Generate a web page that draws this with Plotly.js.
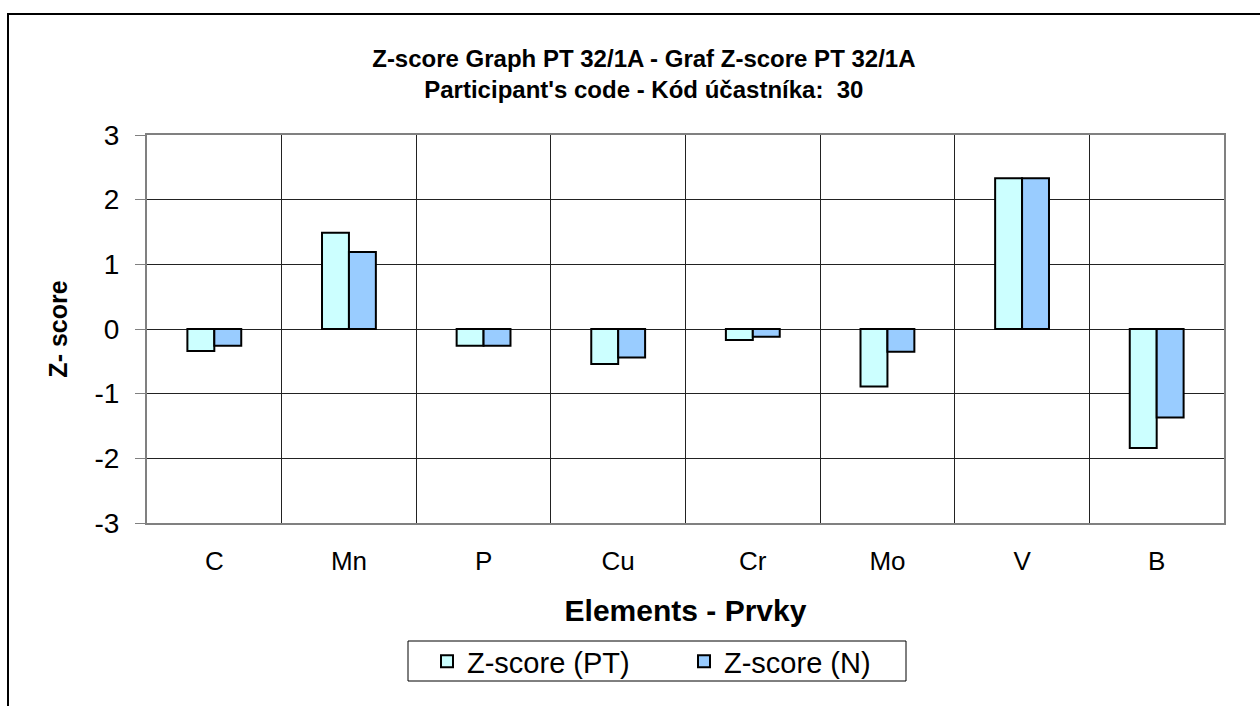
<!DOCTYPE html>
<html>
<head>
<meta charset="utf-8">
<script src="https://cdn.plot.ly/plotly-3.0.1.min.js"></script>
<style>
  html, body { margin: 0; padding: 0; background: #fff; }
  #chart { width: 1260px; height: 706px; }
</style>
</head>
<body>
<div id="chart"></div>
<script>
const categories = ['C', 'Mn', 'P', 'Cu', 'Cr', 'Mo', 'V', 'B'];
const zScorePT = [-0.34, 1.49, -0.26, -0.54, -0.17, -0.89, 2.33, -1.84];
const zScoreN  = [-0.26, 1.19, -0.26, -0.44, -0.12, -0.35, 2.33, -1.37];
const seriesNames = ['Z-score (PT)', 'Z-score (N)'];
const yTicks = [-3, -2, -1, 0, 1, 2, 3];

const FONT = '"Liberation Sans", Arial, sans-serif';

const traces = [
  {
    type: 'bar', name: seriesNames[0], x: categories, y: zScorePT,
    marker: { color: '#CCFFFF', line: { color: '#000000', width: 2 } },
    hoverinfo: 'x+y+name'
  },
  {
    type: 'bar', name: seriesNames[1], x: categories, y: zScoreN,
    marker: { color: '#99CCFF', line: { color: '#000000', width: 2 } },
    hoverinfo: 'x+y+name'
  }
];

// pixel -> paper helpers (plot area: x 147..1224, y 135..523)
const PX0 = 147, PX1 = 1224, PY0 = 135, PY1 = 523;
const px = v => (v - PX0) / (PX1 - PX0);
const py = v => (PY1 - v) / (PY1 - PY0);

const layout = {
  width: 1260, height: 706,
  margin: { l: PX0, r: 1260 - PX1, t: PY0, b: 706 - PY1, pad: 0 },
  paper_bgcolor: '#ffffff', plot_bgcolor: '#ffffff',
  font: { family: FONT, color: '#000000' },
  barmode: 'group', bargap: 0.6, bargroupgap: 0,
  title: {
    text: "Z-score Graph PT 32/1A - Graf Z-score PT 32/1A<br>Participant's code - Kód účastníka:  30",
    font: { family: FONT, size: 24, color: '#000000', weight: 'bold' },
    x: 0.511, xanchor: 'center', xref: 'container',
    y: 0.905, yanchor: 'top', yref: 'container'
  },
  xaxis: {
    type: 'category',
    tickson: 'boundaries',
    showgrid: true, gridcolor: '#222222', gridwidth: 1,
    showline: true, linecolor: '#808080', linewidth: 2, mirror: true,
    ticks: '', ticklen: 0,
    ticklabelstandoff: 14,
    tickfont: { family: FONT, size: 26, color: '#000000' },
    title: { text: 'Elements - Prvky', font: { family: FONT, size: 30, color: '#000000', weight: 'bold' }, standoff: 25 },
    fixedrange: true
  },
  yaxis: {
    range: [-3, 3], tickvals: yTicks, ticktext: yTicks.map(String),
    showgrid: true, gridcolor: '#222222', gridwidth: 1,
    zeroline: false,
    showline: true, linecolor: '#808080', linewidth: 2, mirror: true,
    ticks: 'outside', ticklen: 10, tickcolor: '#808080', tickwidth: 1,
    ticklabelstandoff: 10,
    tickfont: { family: FONT, size: 28, color: '#000000' },
    title: { text: 'Z- score', font: { family: FONT, size: 25, color: '#000000', weight: 'bold' }, standoff: 20 },
    fixedrange: true
  },
  legend: {
    orientation: 'h',
    x: px(427), xanchor: 'left', xref: 'paper',
    y: py(636), yanchor: 'top', yref: 'paper',
    borderwidth: 0, bgcolor: 'rgba(0,0,0,0)',
    font: { family: FONT, size: 29, color: '#000000' },
    entrywidth: 212, entrywidthmode: 'pixels',
    traceorder: 'normal'
  },
  shapes: [
    {
      type: 'rect', xref: 'paper', yref: 'paper',
      x0: px(8), x1: px(1268), y0: py(712), y1: py(14),
      line: { color: '#000000', width: 2 }, fillcolor: 'rgba(0,0,0,0)', layer: 'below'
    },
    {
      type: 'rect', xref: 'paper', yref: 'paper',
      x0: px(408), x1: px(906), y0: py(681), y1: py(641),
      line: { color: '#000000', width: 1 }, fillcolor: 'rgba(0,0,0,0)', layer: 'below'
    }
  ],
  showlegend: true
};

Plotly.newPlot('chart', traces, layout, { displayModeBar: false, staticPlot: true });
</script>
</body>
</html>
